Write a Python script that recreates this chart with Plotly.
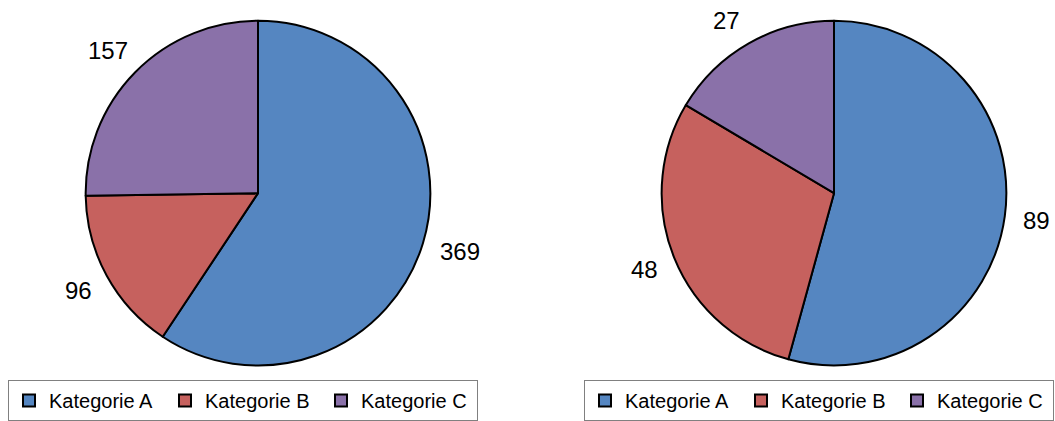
import math
import plotly.graph_objects as go

W, H = 1055, 421

categories = ["Kategorie A", "Kategorie B", "Kategorie C"]
values_left = [369, 96, 157]
values_right = [89, 48, 27]
colors = ["#5586C1", "#C6615E", "#8A71A9"]

LABEL_SIZE = 24
GAP = 17          # distance between pie edge and its value label
HALF_H = 14       # half height of a value label box

# pie geometry in pixels (centre x, centre y, radius), legend id, legend left
pies = [
    (values_left, categories, 258, 195, 174, "legend", 8),
    # the zero-width suffix keeps the second legend's entries separate
    (values_right, [c + "\u200b" for c in categories], 834, 195, 174, "legend2", 584),
]


def label_centre(cx, cy, r, theta, hw):
    dx, dy = math.sin(theta), -math.cos(theta)
    return (cx + dx * (r + GAP + hw), cy + dy * (r + GAP + HALF_H))


fig = go.Figure()
annotations = []
for vals, labels, cx, cy, r, leg, legx in pies:
    fig.add_trace(go.Pie(
        labels=labels,
        values=vals,
        sort=False,
        direction="clockwise",
        rotation=0,
        textinfo="none",
        hoverinfo="label+value",
        marker=dict(colors=colors, line=dict(color="black", width=2)),
        domain=dict(x=[(cx - r) / W, (cx + r) / W],
                    y=[1 - (cy + r) / H, 1 - (cy - r) / H]),
        legend=leg,
    ))
    # value labels outside each slice, turned along the rim if they would
    # run past the top edge of the page
    total = sum(vals)
    start = 0.0
    for v in vals:
        theta = (start + v / 2) / total * 2 * math.pi
        start += v
        hw = 0.556 * LABEL_SIZE * len(str(v)) / 2
        px, py = label_centre(cx, cy, r, theta, hw)
        step = math.radians(0.25) * (-1 if math.sin(theta) < 0 else 1)
        n = 0
        while py < HALF_H + 6 and n < 400:
            theta += step
            px, py = label_centre(cx, cy, r, theta, hw)
            n += 1
        px = min(px, W - hw - 3)
        annotations.append(dict(
            x=px / W, y=1 - py / H, xref="paper", yref="paper",
            text=str(v), showarrow=False,
            xanchor="center", yanchor="middle",
            font=dict(size=LABEL_SIZE, color="black"),
        ))

legend_style = dict(
    orientation="h", yanchor="top", xanchor="left", y=1 - 384 / H,
    bordercolor="#808080", borderwidth=1, bgcolor="white",
    font=dict(size=20, color="black"), entrywidth=111,
    traceorder="normal",
)

fig.update_layout(
    width=W, height=H,
    margin=dict(l=0, r=0, t=0, b=0),
    paper_bgcolor="white", plot_bgcolor="white",
    font=dict(family="Liberation Sans, Arial, sans-serif"),
    annotations=annotations,
    legend=dict(x=8 / W, **legend_style),
    legend2=dict(x=584 / W, **legend_style),
)

fig.write_html("out.html")
